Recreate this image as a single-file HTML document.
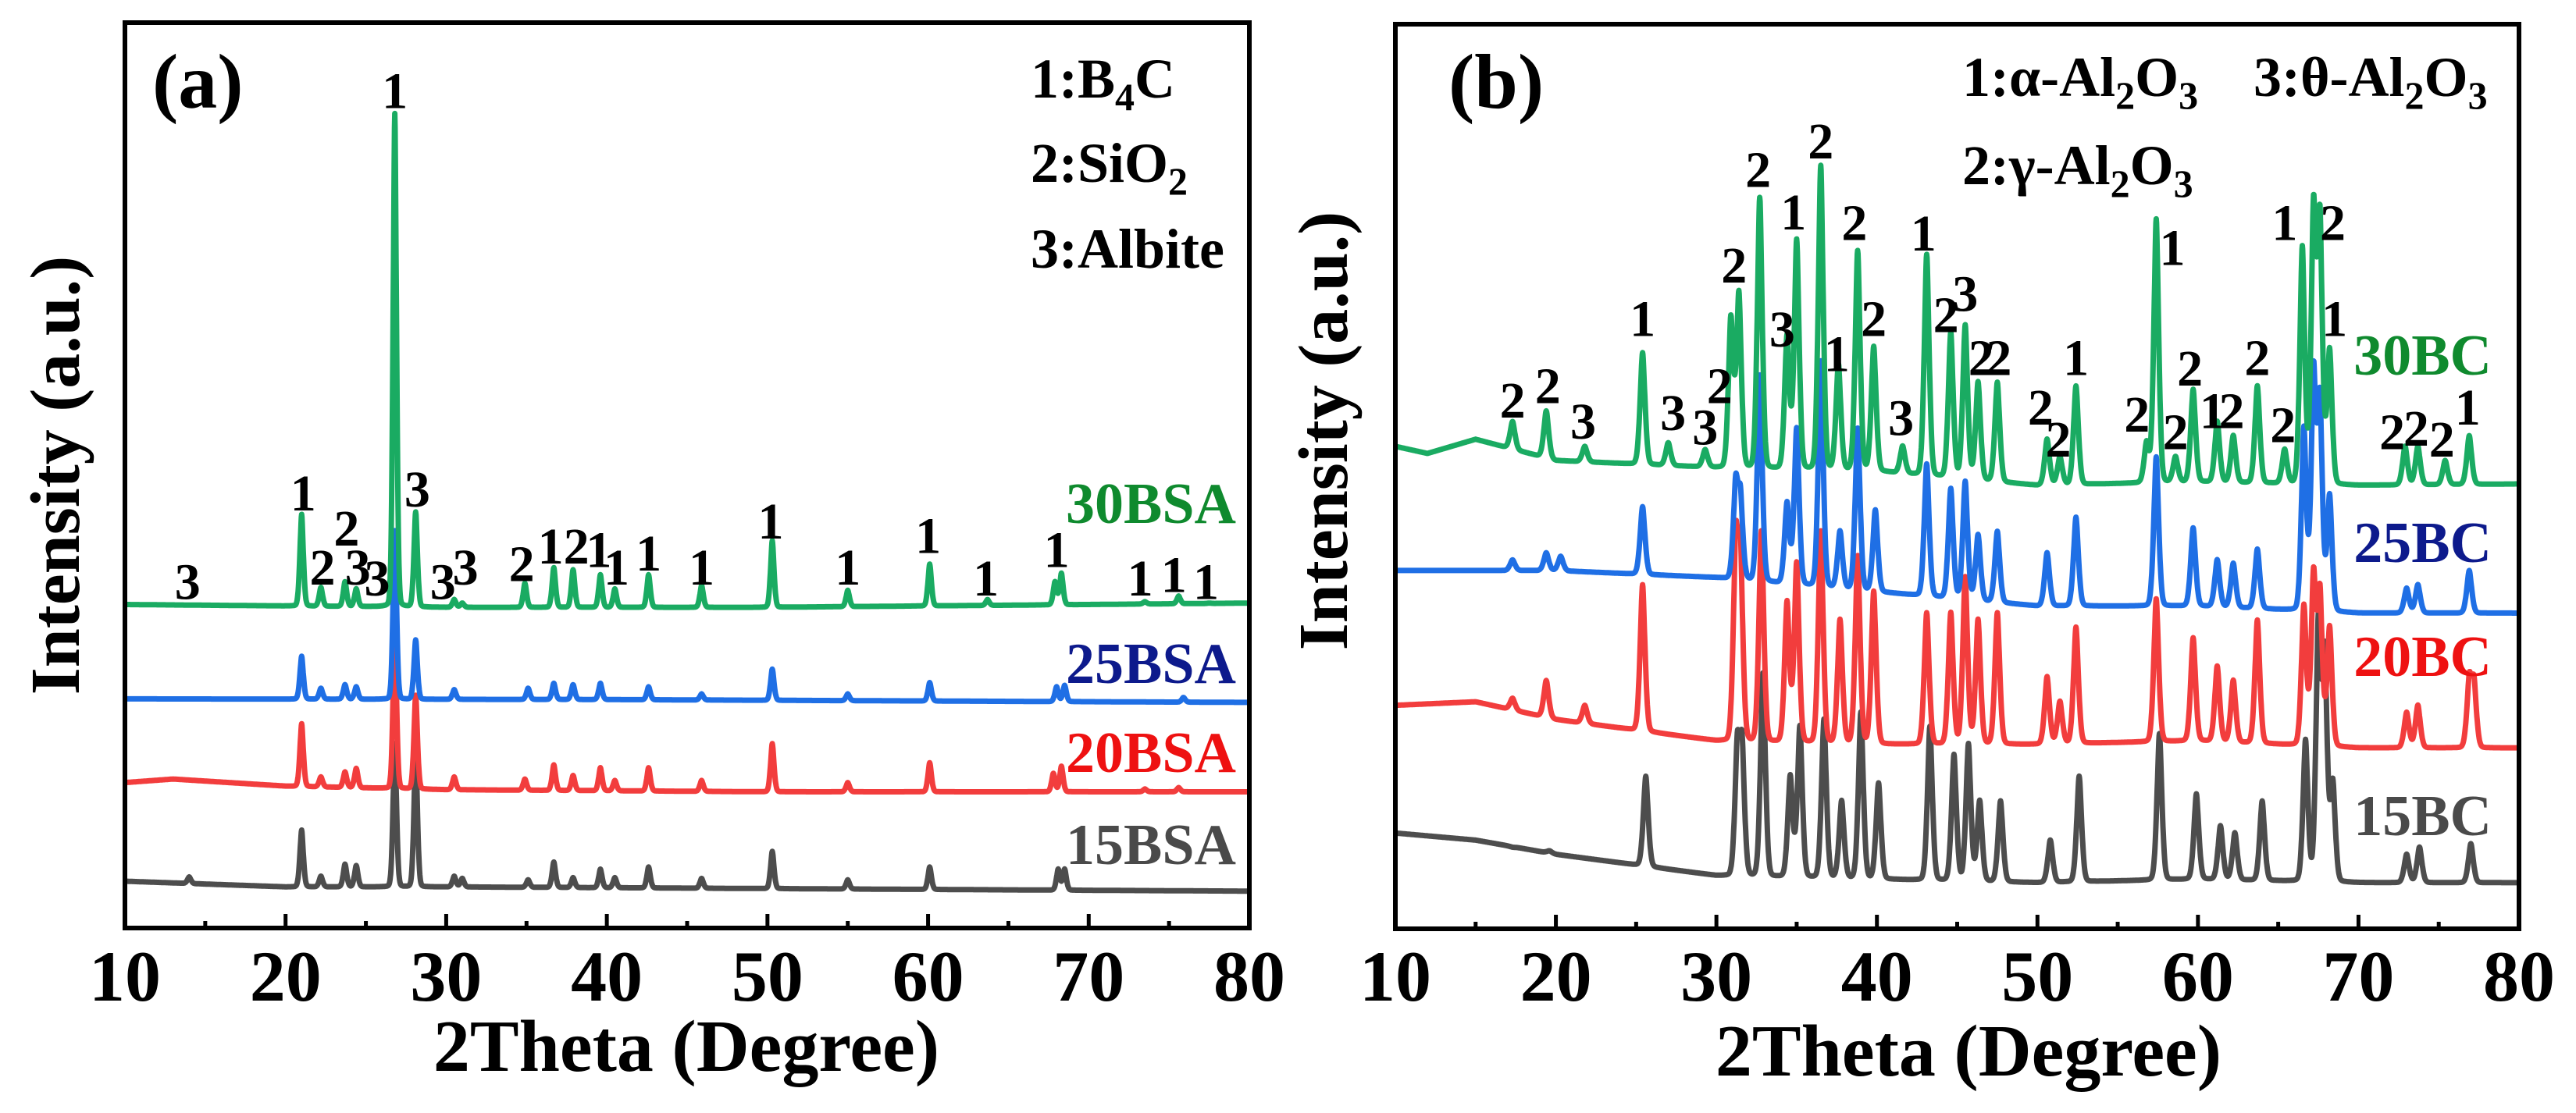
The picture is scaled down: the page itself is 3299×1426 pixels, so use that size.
<!DOCTYPE html>
<html><head><meta charset="utf-8">
<style>
html,body{margin:0;padding:0;background:#fff;}
svg{display:block;}
text{font-family:"Liberation Serif","Times New Roman",serif;font-weight:bold;}
</style></head>
<body>
<svg id="fig" width="3299" height="1426" viewBox="0 0 3299 1426" xmlns="http://www.w3.org/2000/svg">
<rect x="0" y="0" width="3299" height="1426" fill="#fff"/>
<g id="panelA"></g>
<g id="panelB"></g>
</svg>
<script>
// ---------- Panel (a) data ----------
const tickLabels = [10,20,30,40,50,60,70,80];
const minorTicks = [15,25,35,45,55,65,75];

const a30Base = [[10,456],[30,452],[50,452],[80,458]];
const a30Peaks = [[21.0,583],[22.2,480],[23.7,488],[24.4,478],[26.8,1148],[28.1,586],[30.5,463],[31.0,458],[34.9,486],[36.7,508],[37.9,505],[39.6,498],[40.5,478],[42.6,498],[45.9,483],[50.3,546],[55.0,476],[60.1,513],[63.7,463],[67.9,488],[68.3,500],[73.5,460],[75.6,468],[77.5,458]];
const a25Base = [[10,323],[40,322],[80,318]];
const a25Peaks = [[21.0,383],[22.2,338],[23.7,343],[24.4,340],[26.8,560],[28.1,406],[30.5,336],[35.1,338],[36.7,345],[37.9,343],[39.6,345],[42.6,340],[45.9,330],[50.3,365],[55.0,330],[60.1,346],[68.0,340],[68.5,342],[75.9,325]];
const a20Base = [[10,205],[13,210],[20,200],[30,195],[50,192],[80,192]];
const a20Peaks = [[21.0,288],[22.2,213],[23.7,220],[24.4,225],[26.8,420],[28.1,328],[30.5,213],[34.9,210],[36.7,230],[37.9,215],[39.6,226],[40.5,208],[42.6,226],[45.9,208],[50.3,260],[55.0,205],[60.1,233],[67.8,218],[68.3,228],[73.5,196],[75.6,198]];
const a15Base = [[10,66],[20,58],[30,58],[80,52]];
const a15Peaks = [[14.0,72],[21.0,138],[22.2,73],[23.7,90],[24.4,88],[26.8,260],[28.1,250],[30.5,73],[31.0,70],[35.1,68],[36.7,93],[37.9,71],[39.6,83],[40.5,71],[42.6,86],[45.9,70],[50.3,108],[55.0,68],[60.1,86],[68.1,83],[68.5,83]];
const aPeakLabels = [[13.9,'3',488],[21.1,'1',613],[22.3,'2',508],[23.8,'2',563],[24.5,'3',508],[25.7,'3',493],[26.8,'1',1180],[28.2,'3',618],[29.8,'3',488],[31.2,'3',508],[34.7,'2',513],[37.3,'12',538],[39.5,'1',533],[40.6,'1',508],[42.6,'1',528],[45.9,'1',508],[50.2,'1',573],[55.0,'1',508],[60.0,'1',553],[63.6,'1',493],[68.0,'1',533],[73.2,'1',493],[75.3,'1',498],[77.3,'1',488]];

// ---------- Panel (b) data ----------
const b30Base = [[10,680],[12,670],[15,690],[20,660],[30,650],[40,645],[50,625],[60,630],[70,625],[80,627]];
const b30Peaks = [[17.3,715],[19.4,730],[21.8,680],[25.4,812],[27.0,685],[29.3,675],[30.9,860],[31.4,895],[32.7,1030],[34.4,835],[35.0,970],[36.5,1075],[37.6,795],[38.8,955],[39.8,820],[41.6,680],[43.1,950],[44.6,840],[45.5,850],[46.3,770],[47.5,770],[50.6,690],[51.4,665],[52.4,765],[56.8,685],[57.4,1000],[58.6,665],[59.7,760],[61.2,715],[62.2,695],[63.7,765],[65.4,675],[66.5,960],[67.2,1010],[67.6,995],[68.2,815],[72.9,680],[73.7,680],[75.4,660],[76.9,695]];
const b25Base = [[10,505],[20,505],[30,495],[40,475],[50,455],[60,455],[70,445],[80,445]];
const b25Peaks = [[17.3,520],[19.4,530],[20.3,525],[25.4,595],[31.2,620],[31.5,600],[32.7,780],[34.4,600],[35.0,705],[36.5,800],[37.7,560],[38.8,705],[39.9,590],[43.1,655],[44.6,620],[45.5,630],[46.3,555],[47.5,560],[50.6,530],[52.4,580],[57.4,665],[59.7,565],[61.2,520],[62.2,515],[63.7,535],[66.6,705],[67.2,780],[67.6,740],[68.2,610],[73.0,480],[73.7,485],[76.9,505]];
const b20Base = [[10,315],[15,320],[20,295],[30,265],[40,260],[50,260],[60,265],[70,255],[80,255]];
const b20Peaks = [[17.3,325],[19.4,350],[21.8,315],[25.4,485],[31.2,525],[31.5,510],[32.8,560],[34.4,460],[35.0,515],[36.5,560],[37.7,435],[38.8,525],[39.8,475],[43.1,445],[44.6,445],[45.5,495],[46.3,435],[47.5,445],[50.6,355],[51.4,320],[52.4,425],[57.4,465],[59.7,410],[61.2,370],[62.2,350],[63.7,435],[66.6,455],[67.2,495],[67.6,470],[68.2,425],[73.0,305],[73.7,315],[76.9,345],[77.2,340]];
const b15Base = [[10,135],[15,125],[20,105],[30,75],[40,70],[50,65],[60,70],[70,65],[80,65]];
const b15Peaks = [[17.3,115],[19.6,110],[25.6,215],[31.3,245],[31.6,245],[32.9,360],[34.6,215],[35.2,285],[36.7,295],[37.8,180],[39.0,305],[40.1,205],[43.3,285],[44.8,245],[45.7,260],[46.4,180],[47.7,180],[50.8,125],[52.6,215],[57.6,275],[59.9,190],[61.4,145],[62.3,135],[64.0,180],[66.7,265],[67.5,425],[67.9,380],[68.4,205],[73.0,105],[73.8,115],[77.0,120]];
const bPeakLabels = [[17.3,'2',745],[19.5,'2',765],[21.7,'3',715],[25.4,'1',860],[27.3,'3',727],[29.3,'3',707],[30.2,'2',765],[31.1,'2',935],[32.6,'2',1070],[34.1,'3',845],[34.8,'1',1010],[36.5,'2',1110],[37.5,'1',810],[38.6,'2',995],[39.8,'2',860],[41.5,'3',720],[42.9,'1',980],[44.3,'2',865],[45.5,'3',895],[46.5,'2',805],[47.6,'2',805],[50.2,'2',735],[51.3,'2',690],[52.4,'1',805],[56.2,'2',725],[58.4,'1',960],[58.6,'2',700],[59.5,'2',790],[60.9,'1',730],[62.1,'2',730],[63.7,'2',805],[65.3,'2',710],[65.4,'1',995],[68.4,'2',995],[68.5,'1',860],[72.1,'2',700],[73.6,'2',705],[75.2,'2',690],[76.8,'1',735]];

const NS='http://www.w3.org/2000/svg';
function mk(tag, attrs, parent){const e=document.createElementNS(NS,tag);for(const k in attrs)e.setAttribute(k,attrs[k]);parent.appendChild(e);return e;}
function interp(knots,x){if(x<=knots[0][0])return knots[0][1];for(let i=1;i<knots.length;i++){if(x<=knots[i][0]){const a=knots[i-1],b=knots[i];return a[1]+(b[1]-a[1])*(x-a[0])/(b[0]-a[0]);}}return knots[knots.length-1][1];}

function buildPanel(g, P){
  const xS = t => P.left + (t-10)*(P.right-P.left)/70;
  const yS = v => P.bottom - v*P.k;
  P.series.forEach(s=>{
    let d='';
    for(let t=10;t<=80.0001;t+=0.02){
      let v=interp(s.base,t);
      s.peaks.forEach(p=>{const h=p[1]-interp(s.base,p[0]);const z=(t-p[0])/P.w;v+=h*(0.75*Math.exp(-0.5*z*z)+0.25/(1+z*z*3));});
      d+=(d?'L':'M')+xS(t).toFixed(1)+','+yS(v).toFixed(1);
    }
    const path=mk('path',{d:d,fill:'none',stroke:s.color,'stroke-width':P.lw,'stroke-linejoin':'round'},g);
    
    
    const lab=mk('text',{x:P.sampleX,y:s.labelY,'text-anchor':'end','font-size':74,fill:s.labelColor},g);
    lab.textContent=s.label;
    
    
  });
  P.peakLabels.forEach(p=>{
    const t=mk('text',{x:xS(p[0]).toFixed(1),y:(yS(p[2])+22).toFixed(1),'text-anchor':'middle','font-size':66,fill:'#000'},g);
    t.textContent=p[1];
    
    
  });
  const fr=mk('rect',{x:P.left,y:P.top,width:P.right-P.left,height:P.bottom-P.top,fill:'none',stroke:'#000','stroke-width':6},g);
  
  
  tickLabels.forEach(v=>{
    const tk=mk('line',{x1:xS(v),x2:xS(v),y1:P.bottom,y2:P.bottom-18,stroke:'#000','stroke-width':5},g);
    
    
    const tl=mk('text',{x:xS(v),y:1282,'text-anchor':'middle','font-size':92,fill:'#000'},g);
    tl.textContent=String(v);
    
    
  });
  minorTicks.forEach(v=>{
    const tk=mk('line',{x1:xS(v),x2:xS(v),y1:P.bottom,y2:P.bottom-9,stroke:'#000','stroke-width':5},g);
    
    
  });
  const xt=mk('text',{x:P.xTitleX,y:P.xTitleY,'text-anchor':'middle','font-size':94,fill:'#000'},g);
  xt.textContent='2Theta (Degree)';
  
  
  const yt=mk('text',{x:0,y:0,transform:'translate('+P.yTitleX+','+P.yTitleY+') rotate(-90)','text-anchor':'middle','font-size':90,fill:'#000'},g);
  yt.textContent='Intensity (a.u.)';
  
  
  const pl=mk('text',{x:P.tagX,y:138,'font-size':100,fill:'#000'},g);
  pl.textContent=P.tag;
  
  
}

const gA=document.getElementById('panelA'), gB=document.getElementById('panelB');
buildPanel(gA,{left:160,right:1600,top:29,bottom:1189,k:0.909,w:0.12,lw:7,sampleX:1583,
  xTitleX:879,xTitleY:1372,yTitleX:101,yTitleY:609,tag:'(a)',tagX:195,peakLabels:aPeakLabels,
  series:[
   {name:'15bsa',label:'15BSA',base:a15Base,peaks:a15Peaks,color:'#4d4d4d',labelColor:'#4a4a4a',labelY:1107},
   {name:'20bsa',label:'20BSA',base:a20Base,peaks:a20Peaks,color:'#f23d3d',labelColor:'#ee1111',labelY:989},
   {name:'25bsa',label:'25BSA',base:a25Base,peaks:a25Peaks,color:'#1f6fe5',labelColor:'#0d1a8c',labelY:875},
   {name:'30bsa',label:'30BSA',base:a30Base,peaks:a30Peaks,color:'#1aab62',labelColor:'#0f8a2e',labelY:670}]});
buildPanel(gB,{left:1787,right:3226,top:31,bottom:1190,k:0.909,w:0.17,lw:7,sampleX:3191,
  xTitleX:2521,xTitleY:1378,yTitleX:1725,yTitleY:552,tag:'(b)',tagX:1855,peakLabels:bPeakLabels,
  series:[
   {name:'15bc',label:'15BC',base:b15Base,peaks:b15Peaks,color:'#4d4d4d',labelColor:'#4a4a4a',labelY:1070},
   {name:'20bc',label:'20BC',base:b20Base,peaks:b20Peaks,color:'#f23d3d',labelColor:'#ee1111',labelY:866},
   {name:'25bc',label:'25BC',base:b25Base,peaks:b25Peaks,color:'#1f6fe5',labelColor:'#0d1a8c',labelY:720},
   {name:'30bc',label:'30BC',base:b30Base,peaks:b30Peaks,color:'#1aab62',labelColor:'#0f8a2e',labelY:480}]});

function legendLine(g,x,y,parts,name){
  const t=mk('text',{x:x,y:y,'font-size':72,fill:'#000'},g);
  
  
  parts.forEach(p=>{const s=mk('tspan',p.sub?{dy:16,'font-size':50}:(p.up?{dy:-16}:{}),t);s.textContent=p.t;});
}
legendLine(gA,1320,125,[{t:'1:B'},{t:'4',sub:1},{t:'C',up:1}],'legend-b4c');
legendLine(gA,1320,233,[{t:'2:SiO'},{t:'2',sub:1}],'legend-sio2');
legendLine(gA,1320,343,[{t:'3:Albite'}],'legend-albite');
legendLine(gB,2513,123,[{t:'1:α-Al'},{t:'2',sub:1},{t:'O',up:1},{t:'3',sub:1}],'legend-alpha-al2o3');
legendLine(gB,2886,123,[{t:'3:θ-Al'},{t:'2',sub:1},{t:'O',up:1},{t:'3',sub:1}],'legend-theta-al2o3');
legendLine(gB,2513,236,[{t:'2:γ-Al'},{t:'2',sub:1},{t:'O',up:1},{t:'3',sub:1}],'legend-gamma-al2o3');
</script>
</body></html>
